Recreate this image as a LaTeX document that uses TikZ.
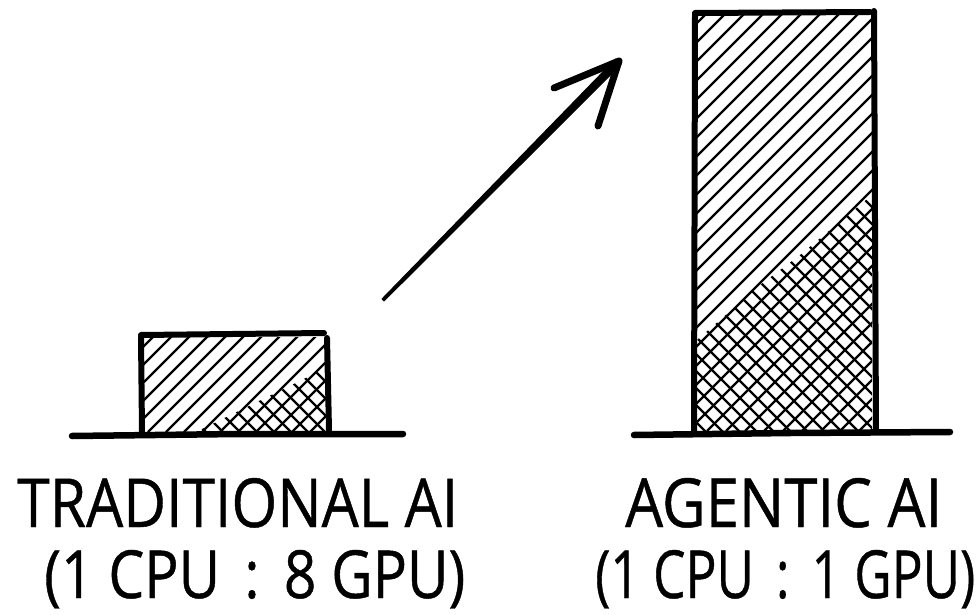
\documentclass[tikz,border=0pt]{standalone}
\usepackage{fontspec}
\setmainfont{Open Sans}
\newfontfamily\lblfont{Open Sans}[FakeBold=0.7]
\usepackage{graphicx}
\usetikzlibrary{calc}
\tikzset{
  outline/.style={line width=6pt, line cap=round, black},
  ground/.style={line width=6.5pt, line cap=round, black},
  hatch/.style={line width=2.3pt, black},
  crosshatch/.style={line width=2.2pt, black},
  shaft/.style={fill=black, draw=black, line width=1pt, line join=round},
  headline/.style={line width=7pt, line cap=round, line join=round, black},
  label/.style={inner sep=0pt, anchor=base west, text=black, font=\lblfont}
}
\begin{document}
\begin{tikzpicture}[x=1pt,y=-1pt]
\useasboundingbox (0,0) rectangle (980,615);
\fill[white] (0,0) rectangle (980,615);

% ---------- left (traditional) bar ----------
\begin{scope}
  \clip (143,337) rectangle (326,432);
  \foreach \c in {40,58,...,340} \draw[hatch] (\c,432) -- ++(200,-200);
\end{scope}
\begin{scope}
  \clip (196,432) -- (326,368) -- (326,432) -- cycle;
  \foreach \c in {100,117,...,330} \draw[crosshatch] (\c,360) -- ++(120,120);
\end{scope}
\draw[outline] (141,335) -- (324,333);
\draw[outline] (141,337) -- (142,432);
\draw[outline] (327,338) -- (329,430);
\draw[ground] (72,436) -- (238,434) -- (403,434);

% ---------- right (agentic) bar ----------
\begin{scope}
  \clip (697,15) rectangle (872,431);
  \foreach \c in {270,289,...,880} \draw[hatch] (\c,431) -- ++(450,-450);
\end{scope}
\begin{scope}
  \clip (697,340) -- (760,285) -- (800,255) -- (872,195) -- (872,431) -- (697,431) -- cycle;
  \foreach \c in {420,437,...,880} \draw[crosshatch] (\c,180) -- ++(300,300);
\end{scope}
\draw[outline] (695,13) -- (870,12);
\draw[outline] (695,14) -- (694,432);
\draw[outline] (874,11) -- (876,431);
\draw[ground] (634,435) -- (790,433) -- (950,432);

% ---------- arrow ----------
\coordinate (as) at (383,300);
\coordinate (at) at (619,61);
\coordinate (h1) at (554,88);
\coordinate (h2) at (598,126);
\draw[shaft] ($(as)+(-1,-1)$) -- ($(at)+(-3.5,-2)$) -- ($(at)+(2,3.5)$) -- ($(as)+(1,1)$) -- cycle;
\draw[headline] (h1) -- (at) -- (h2);

% ---------- labels ----------
\node[label] (l1) at (17,527) {\resizebox{441pt}{49pt}{TRADITIONAL AI}};
\node[label] (l2) at (44,598) {\resizebox{421pt}{48pt}{(1 CPU \,:\, 8 GPU)}};
\node[label] (r1) at (625,527) {\resizebox{317pt}{49pt}{AGENTIC AI}};
\node[label] (r2) at (595,598) {\resizebox{380pt}{48pt}{(1 CPU \,:\, 1 GPU)}};
\end{tikzpicture}
\end{document}
